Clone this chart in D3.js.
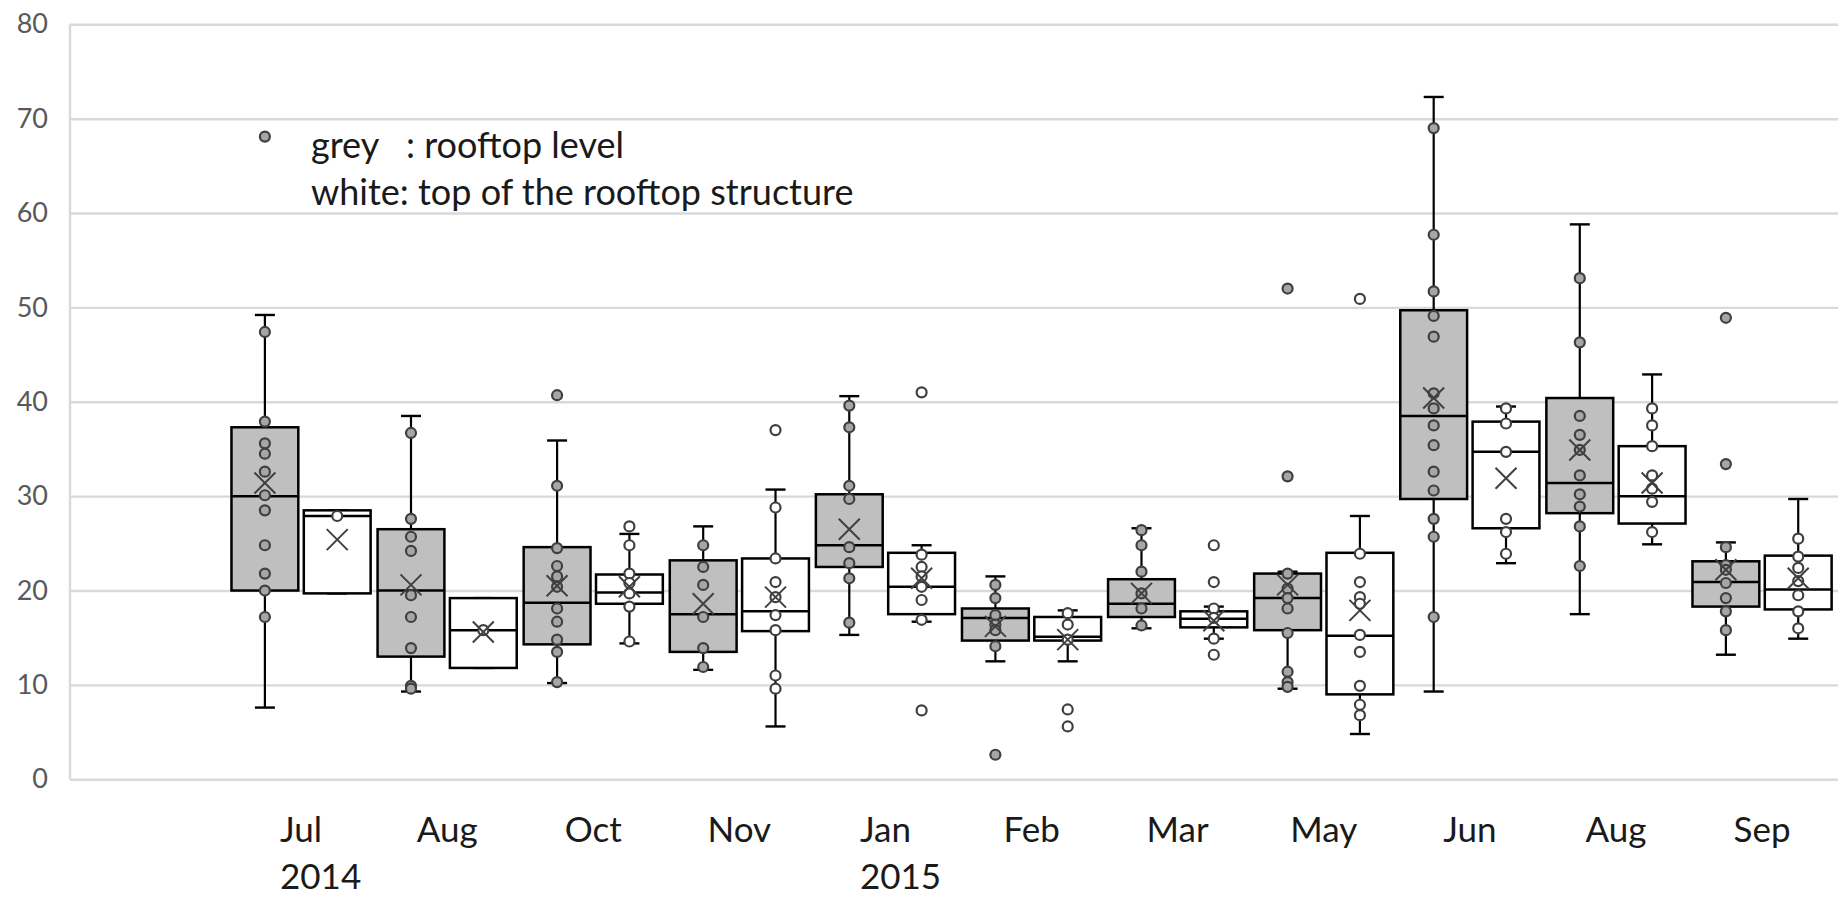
<!DOCTYPE html>
<html>
<head>
<meta charset="utf-8">
<script src="https://cdn.jsdelivr.net/npm/d3@7"></script>
<style>
  html, body { margin: 0; padding: 0; background: #ffffff; }
  svg { display: block; }
  text { font-family: Lato, "Open Sans", sans-serif; }
</style>
</head>
<body>
<svg id="chart" width="1838" height="898"></svg>
<script>
// Sampling campaigns (month of measurement)
const periods = ["2014-07","2014-08","2014-10","2014-11","2015-01","2015-02","2015-03","2015-05","2015-06","2015-08","2015-09"];
const monthLabels = ["Jul","Aug","Oct","Nov","Jan","Feb","Mar","May","Jun","Aug","Sep"];
const yearLabels = ["2014","","","","2015","","","","","",""];
const yTicks = [0,10,20,30,40,50,60,70,80];

// Grey series: rooftop level
const greyLow    = [7.6, 9.3, 10.2, 11.6, 15.3, 12.5, 16.0, 9.6, 9.3, 17.5, 13.2];
const greyQ1     = [20.0, 13.0, 14.3, 13.5, 22.5, 14.7, 17.2, 15.8, 29.7, 28.2, 18.3];
const greyMedian = [30.0, 20.0, 18.7, 17.5, 24.8, 17.1, 18.6, 19.2, 38.5, 31.4, 20.9];
const greyQ3     = [37.3, 26.5, 24.6, 23.2, 30.2, 18.1, 21.2, 21.8, 49.7, 40.4, 23.1];
const greyHigh   = [49.2, 38.5, 35.9, 26.8, 40.6, 21.5, 26.6, 22.0, 72.3, 58.8, 25.1];
const greyMean   = [31.4, 20.6, 20.5, 18.6, 26.5, 16.2, 19.7, 20.6, 40.4, 34.9, 22.2];
const greyPoints = [
  [68.1, 47.4, 37.9, 35.6, 34.5, 32.6, 30.1, 28.5, 24.8, 21.8, 20.0, 17.2],
  [36.7, 27.6, 25.7, 24.2, 19.5, 17.2, 13.9, 9.9, 9.6],
  [40.7, 31.1, 24.5, 22.6, 21.5, 20.4, 18.1, 16.7, 14.8, 13.5, 10.3],
  [24.8, 22.5, 20.6, 17.2, 13.9, 11.9],
  [39.6, 37.3, 31.1, 29.7, 24.6, 22.9, 21.3, 16.6],
  [20.6, 19.2, 17.4, 16.4, 15.8, 14.1, 2.6],
  [26.4, 24.8, 22.0, 19.7, 18.1, 16.3],
  [52.0, 32.1, 21.8, 20.2, 19.2, 18.1, 15.5, 11.4, 10.3, 9.8],
  [69.0, 57.7, 51.7, 49.1, 46.9, 40.9, 39.3, 37.5, 35.4, 32.6, 30.6, 27.6, 25.7, 17.2],
  [53.1, 46.3, 38.5, 36.5, 34.9, 32.2, 30.2, 28.9, 26.8, 22.6],
  [48.9, 33.4, 24.6, 22.7, 22.2, 20.8, 19.2, 17.8, 15.8]
];

// White series: top of the rooftop structure
const whiteLow    = [19.7, 11.8, 14.4, 5.6, 16.7, 12.5, 14.9, 4.8, 22.9, 24.9, 14.9];
const whiteQ1     = [19.7, 11.8, 18.6, 15.7, 17.5, 14.7, 16.1, 9.0, 26.6, 27.1, 18.0];
const whiteMedian = [27.9, 15.8, 19.8, 17.8, 20.4, 15.1, 17.0, 15.2, 34.7, 30.0, 20.1];
const whiteQ3     = [28.5, 19.2, 21.7, 23.4, 24.0, 17.2, 17.8, 24.0, 37.9, 35.3, 23.7];
const whiteHigh   = [28.5, 19.2, 26.0, 30.7, 24.8, 17.9, 18.3, 27.9, 39.5, 42.9, 29.7];
const whiteMean   = [25.4, 15.6, 20.4, 19.3, 21.3, 14.8, 16.8, 17.9, 31.9, 31.4, 21.3];
const whitePoints = [
  [27.9],
  [15.8],
  [26.8, 24.8, 21.8, 20.8, 19.7, 18.3, 14.6],
  [37.0, 28.8, 23.4, 20.9, 19.3, 17.4, 15.8, 11.0, 9.6],
  [41.0, 23.8, 22.5, 21.5, 20.4, 19.0, 16.9, 7.3],
  [17.6, 16.4, 14.8, 7.4, 5.6],
  [24.8, 20.9, 18.1, 17.1, 14.9, 13.2],
  [50.9, 23.9, 20.9, 19.3, 18.6, 15.3, 13.5, 9.9, 7.9, 6.8],
  [39.3, 37.7, 34.7, 27.6, 26.2, 23.9],
  [39.3, 37.5, 35.3, 32.2, 30.8, 29.4, 26.2],
  [25.5, 23.6, 22.4, 21.0, 19.5, 17.8, 16.0]
];

const legendLines = ["grey   : rooftop level", "white: top of the rooftop structure"];

// ---- build per-box records from the arrays above
function buildSeries(key, low, q1, med, q3, high, mean, pts) {
  return periods.map((p, i) => ({
    period: p, series: key,
    low: low[i], q1: q1[i], median: med[i], q3: q3[i], high: high[i],
    mean: mean[i], points: pts[i]
  }));
}
const boxes = [
  ...buildSeries("grey",  greyLow,  greyQ1,  greyMedian,  greyQ3,  greyHigh,  greyMean,  greyPoints),
  ...buildSeries("white", whiteLow, whiteQ1, whiteMedian, whiteQ3, whiteHigh, whiteMean, whitePoints)
];

const fills = { grey: "#bfbfbf", white: "#ffffff" };

// ---- layout
const W = 1838, H = 898;
const plotLeft = 70, plotRight = 1838, plotTop = 24.3, plotBottom = 779.3;

const svg = d3.select("#chart");
svg.append("rect").attr("width", W).attr("height", H).attr("fill", "#ffffff");

const y = d3.scaleLinear().domain([0, 80]).range([plotBottom, plotTop]);
const x = d3.scaleBand().domain(periods).range([228, 228 + 146.1 * periods.length]).padding(0);
const xs = d3.scaleBand().domain(["grey", "white"]).range([0, x.bandwidth()])
  .paddingInner(0.076).paddingOuter(0.048);

// gridlines + y tick labels
const yAxis = svg.append("g")
  .attr("transform", `translate(${plotLeft},0)`)
  .call(d3.axisLeft(y).tickValues(yTicks).tickSize(-(plotRight - plotLeft)).tickPadding(22));
yAxis.select(".domain").remove();
yAxis.selectAll(".tick line").attr("stroke", "#d9d9d9").attr("stroke-width", 2.4);
yAxis.selectAll(".tick text")
  .attr("fill", "#595959").attr("font-size", 27).attr("font-family", "Lato, sans-serif");

// plot area left border
svg.append("line")
  .attr("x1", plotLeft).attr("x2", plotLeft)
  .attr("y1", y(80)).attr("y2", y(0))
  .attr("stroke", "#d9d9d9").attr("stroke-width", 2.4);

// x labels
const xAxis = svg.append("g")
  .attr("transform", `translate(0,${plotBottom})`)
  .call(d3.axisBottom(x).tickSize(0).tickPadding(0).tickFormat((d, i) => monthLabels[i]));
xAxis.select(".domain").remove();
const monthText = xAxis.selectAll(".tick text")
  .attr("dy", null).attr("y", 63)
  .attr("fill", "#1a1a1a").attr("font-size", 35).attr("font-family", "Lato, sans-serif");

// year labels, left-aligned under their first month
monthText.each(function (d, i) {
  if (!yearLabels[i]) return;
  const len = this.getComputedTextLength();
  const cx = x(d) + x.bandwidth() / 2;
  svg.append("text")
    .attr("x", cx - len / 2).attr("y", plotBottom + 110)
    .attr("fill", "#1a1a1a").attr("font-size", 35)
    .text(yearLabels[i]);
});

// boxes
const g = svg.append("g");
const bw = xs.bandwidth();
const capW = 20;

const box = g.selectAll("g.box").data(boxes).join("g")
  .attr("class", "box")
  .attr("transform", d => `translate(${x(d.period) + xs(d.series)},0)`);

// whiskers
box.append("line")
  .attr("x1", bw / 2).attr("x2", bw / 2)
  .attr("y1", d => y(d.high)).attr("y2", d => y(d.q3))
  .attr("stroke", "#000").attr("stroke-width", 2.2);
box.append("line")
  .attr("x1", bw / 2).attr("x2", bw / 2)
  .attr("y1", d => y(d.q1)).attr("y2", d => y(d.low))
  .attr("stroke", "#000").attr("stroke-width", 2.2);
// caps
box.append("line")
  .attr("x1", bw / 2 - capW / 2).attr("x2", bw / 2 + capW / 2)
  .attr("y1", d => y(d.high)).attr("y2", d => y(d.high))
  .attr("stroke", "#000").attr("stroke-width", 2.4);
box.append("line")
  .attr("x1", bw / 2 - capW / 2).attr("x2", bw / 2 + capW / 2)
  .attr("y1", d => y(d.low)).attr("y2", d => y(d.low))
  .attr("stroke", "#000").attr("stroke-width", 2.4);

// box body
box.append("rect")
  .attr("x", 0).attr("width", bw)
  .attr("y", d => y(d.q3)).attr("height", d => y(d.q1) - y(d.q3))
  .attr("fill", d => fills[d.series]).attr("stroke", "#000").attr("stroke-width", 2.5);

// median
box.append("line")
  .attr("x1", 0).attr("x2", bw)
  .attr("y1", d => y(d.median)).attr("y2", d => y(d.median))
  .attr("stroke", "#000").attr("stroke-width", 2.5);

// individual points
box.selectAll("circle").data(d => d.points.map(v => ({ v, series: d.series }))).join("circle")
  .attr("cx", bw / 2).attr("cy", p => y(p.v)).attr("r", 5)
  .attr("fill", p => p.series === "grey" ? "#a6a6a6" : "#ffffff")
  .attr("stroke", "#3f3f3f").attr("stroke-width", 2.2);

// mean marker
const m = 10.5;
box.append("path")
  .attr("d", d => {
    const cx = bw / 2, cy = y(d.mean);
    return `M${cx - m},${cy - m}L${cx + m},${cy + m}M${cx - m},${cy + m}L${cx + m},${cy - m}`;
  })
  .attr("stroke", "#404040").attr("stroke-width", 2).attr("fill", "none");

// legend note
const legend = svg.append("text")
  .attr("x", 311).attr("y", 158)
  .attr("fill", "#1a1a1a").attr("font-size", 36)
  .style("white-space", "pre");
legend.selectAll("tspan").data(legendLines).join("tspan")
  .attr("x", 311).attr("dy", (d, i) => i === 0 ? 0 : 46.5)
  .text(d => d);
</script>
</body>
</html>
